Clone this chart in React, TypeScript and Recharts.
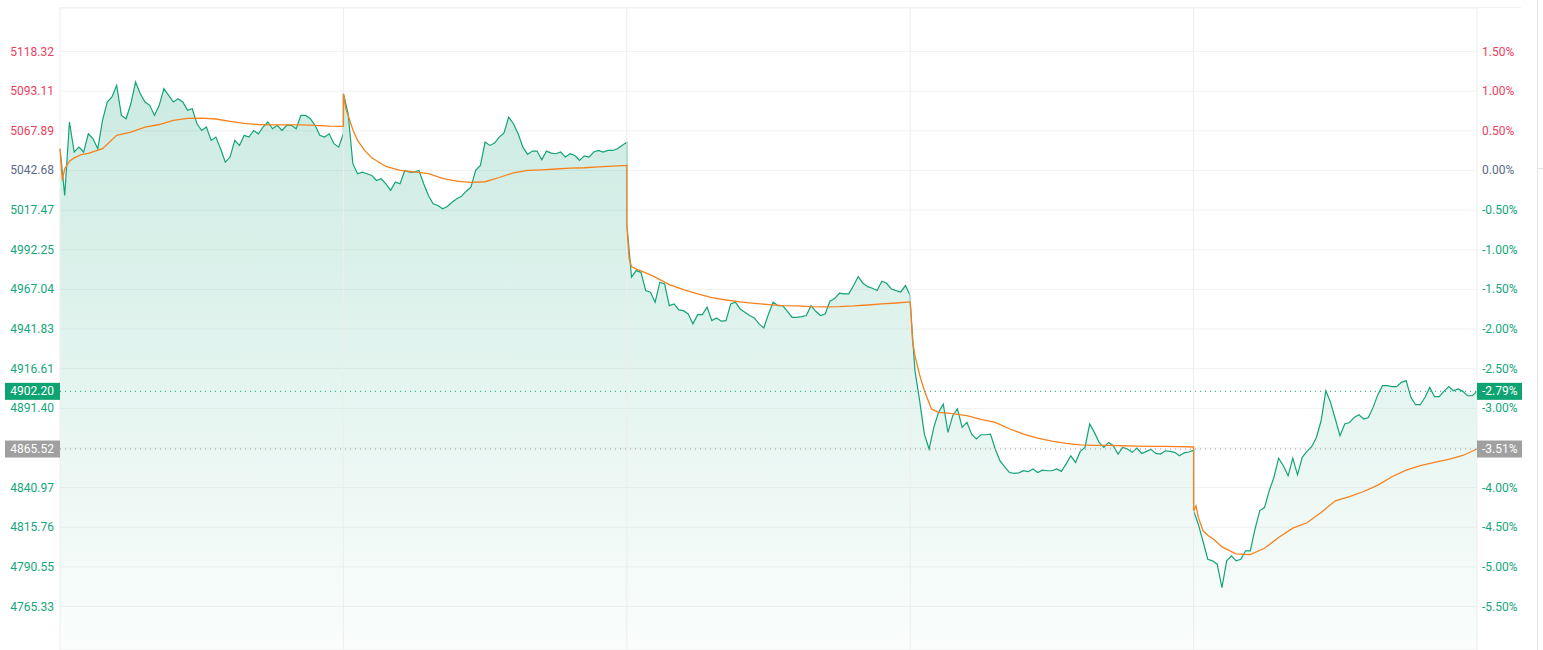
import { Area, CartesianGrid, ComposedChart, Line, ReferenceLine, XAxis, YAxis } from "recharts"

// previous close, 0.00% on the right axis
const BASE = 5042.68

const PRICE_TICKS = [
  5118.32, 5093.11, 5067.89, 5042.68, 5017.47, 4992.25, 4967.04, 4941.83,
  4916.61, 4891.4, 4866.19, 4840.97, 4815.76, 4790.55, 4765.33,
]

// one value every 4 minutes, 61 per session
const PRICE_D1 = [
  5056.5, 5026.8, 5073.5, 5054.4, 5057.5, 5054.4, 5066.0, 5062.8, 5056.5, 5074.5,
  5086.2, 5089.4, 5096.8, 5077.7, 5075.6, 5085.1, 5098.9, 5091.5, 5086.2, 5084.1,
  5077.7, 5084.1, 5094.7, 5090.4, 5086.2, 5088.3, 5086.2, 5080.9, 5081.9, 5072.4,
  5068.1, 5070.3, 5061.8, 5063.9, 5056.5, 5048.0, 5051.2, 5061.8, 5058.6, 5065.0,
  5063.9, 5068.1, 5066.0, 5070.3, 5073.5, 5069.2, 5071.4, 5068.1, 5071.4, 5071.4,
  5069.2, 5077.7, 5077.7, 5075.6, 5071.4, 5065.0, 5063.9, 5066.0, 5059.7, 5057.5,
  5066.0,
]
const PRICE_D2 = [
  5091.5, 5078.8, 5047.0, 5040.6, 5041.6, 5040.6, 5039.5, 5036.3, 5037.4, 5034.2,
  5030.0, 5035.3, 5034.2, 5042.7, 5041.6, 5041.6, 5042.7, 5034.2, 5026.8, 5021.5,
  5020.4, 5018.3, 5019.8, 5022.5, 5024.7, 5026.2, 5029.5, 5032.1, 5042.7, 5045.9,
  5060.7, 5058.6, 5060.1, 5063.9, 5066.5, 5076.6, 5072.4, 5066.0, 5057.5, 5052.9,
  5055.0, 5055.0, 5049.5, 5055.0, 5053.7, 5053.3, 5054.4, 5051.2, 5053.3, 5052.2,
  5049.1, 5052.0, 5051.2, 5054.4, 5055.4, 5054.4, 5055.4, 5055.4, 5056.5, 5058.6,
  5060.7,
]
const PRICE_D3 = [
  5008.7, 4974.8, 4979.0, 4977.9, 4966.3, 4965.2, 4958.9, 4971.6, 4970.5, 4956.7,
  4957.8, 4954.0, 4953.5, 4951.4, 4945.1, 4951.0, 4951.0, 4955.7, 4947.2, 4948.9,
  4946.8, 4947.2, 4957.8, 4958.9, 4954.6, 4952.5, 4950.4, 4948.9, 4945.1, 4942.5,
  4951.4, 4958.9, 4956.7, 4956.7, 4953.1, 4949.3, 4949.3, 4949.7, 4950.4, 4956.7,
  4953.1, 4950.4, 4951.4, 4959.5, 4961.2, 4964.6, 4964.2, 4964.2, 4969.5, 4975.2,
  4970.9, 4968.8, 4967.8, 4966.3, 4972.2, 4970.9, 4967.3, 4966.3, 4965.4, 4969.5,
  4963.1,
]
const PRICE_D4 = [
  4958.9, 4915.4, 4896.3, 4875.0, 4865.5, 4879.3, 4888.8, 4894.1, 4876.1, 4886.7,
  4891.0, 4879.3, 4882.5, 4875.0, 4871.9, 4874.6, 4874.6, 4875.0, 4865.5, 4858.1,
  4854.2, 4850.6, 4850.0, 4850.4, 4851.7, 4851.1, 4852.8, 4850.6, 4852.1, 4851.7,
  4851.7, 4852.8, 4851.3, 4855.9, 4861.2, 4857.0, 4864.0, 4866.5, 4881.4, 4876.1,
  4869.7, 4866.5, 4869.7, 4867.6, 4862.3, 4866.5, 4865.5, 4863.4, 4866.1, 4862.7,
  4864.0, 4865.3, 4862.7, 4862.3, 4864.4, 4864.0, 4863.4, 4861.2, 4863.1, 4863.6,
  4864.8,
]
const PRICE_D5 = [
  4826.2, 4817.7, 4806.7, 4795.4, 4794.4, 4792.3, 4777.4, 4794.4, 4797.6, 4794.4,
  4795.4, 4800.8, 4800.8, 4814.5, 4826.2, 4828.3, 4838.9, 4847.4, 4859.7, 4854.9,
  4848.5, 4859.7, 4849.1, 4860.2, 4864.0, 4867.0, 4872.9, 4883.5, 4902.6, 4895.2,
  4884.6, 4874.0, 4881.4, 4882.4, 4885.6, 4887.3, 4884.6, 4885.6, 4892.0, 4900.1,
  4905.8, 4905.8, 4905.2, 4905.2, 4907.9, 4909.0, 4898.4, 4893.7, 4893.7, 4898.4,
  4904.7, 4898.8, 4898.8, 4902.2, 4905.2, 4902.6, 4903.7, 4902.2, 4899.4, 4899.4,
  4902.2,
]

// average price line, sampled at these minutes of each session
const AVG_MINUTES = [0, 2, 4, 8, 12, 18, 24, 36, 48, 60, 72, 84, 96, 108, 120, 132, 144, 156, 168, 180, 192, 204, 216, 228, 240]
const AVG_D1 = [5056.5, 5036.3, 5043.7, 5048.6, 5050.7, 5052.7, 5053.5, 5056.5, 5065.0, 5067.1, 5070.3, 5071.9, 5074.5, 5075.8, 5076.0, 5075.4, 5073.9, 5072.6, 5071.9, 5071.7, 5071.7, 5071.7, 5071.3, 5070.9, 5070.7]
const AVG_D2 = [5091.5, 5082.0, 5077.7, 5068.6, 5061.8, 5055.4, 5050.8, 5045.2, 5042.7, 5041.8, 5040.6, 5037.6, 5035.9, 5035.1, 5035.5, 5038.2, 5041.2, 5042.7, 5043.1, 5043.6, 5044.2, 5044.4, 5045.0, 5045.5, 5045.9]
const AVG_D3 = [5007.7, 4986.4, 4981.6, 4979.9, 4978.8, 4976.9, 4974.8, 4970.1, 4966.9, 4964.2, 4961.8, 4960.3, 4959.1, 4958.2, 4957.4, 4956.7, 4956.5, 4956.1, 4955.9, 4956.1, 4956.5, 4957.1, 4957.8, 4958.4, 4959.1]
const AVG_D4 = [4958.9, 4934.4, 4924.9, 4912.6, 4902.6, 4891.0, 4888.8, 4888.0, 4886.7, 4884.4, 4882.5, 4878.4, 4875.0, 4872.5, 4870.6, 4869.1, 4868.2, 4867.8, 4867.8, 4867.6, 4867.4, 4867.2, 4867.2, 4867.0, 4866.8]
const AVG_D5 = [4826.2, 4829.4, 4822.0, 4813.5, 4810.7, 4807.5, 4803.3, 4798.8, 4798.4, 4802.4, 4809.2, 4815.2, 4818.6, 4825.2, 4832.6, 4835.3, 4838.5, 4842.6, 4847.9, 4852.1, 4854.9, 4857.0, 4858.9, 4861.4, 4865.52]

const SESSION = 240
const priceDays = [PRICE_D1, PRICE_D2, PRICE_D3, PRICE_D4, PRICE_D5]
const avgDays = [AVG_D1, AVG_D2, AVG_D3, AVG_D4, AVG_D5]

const priceData = priceDays.flatMap((day, d) => day.map((price, i) => ({ t: d * SESSION + i * 4, price })))
const avgData = avgDays.flatMap((day, d) => day.map((avg, i) => ({ t: d * SESSION + AVG_MINUTES[i], avg })))
const dayBounds = [0, 1, 2, 3, 4, 5].map((d) => d * SESSION)

const lastPrice = PRICE_D5[PRICE_D5.length - 1]
const lastAvg = AVG_D5[AVG_D5.length - 1]

const RED = "#ef4060"
const GREEN = "#14a67c"
const FLAT = "#5b6a88"
const FONT = "Roboto, sans-serif"

const pct = (v: number) => `${(((v / BASE) - 1) * 100).toFixed(2)}%`
const tickColor = (v: number) => (v > BASE + 0.01 ? RED : v < BASE - 0.01 ? GREEN : FLAT)
// ticks that sit under a price tag are not drawn
const covered = (v: number) => Math.abs(v - lastAvg) < 3 || Math.abs(v - lastPrice) < 3

function PriceTick({ x, y, payload, side }: any) {
  const v = payload.value
  if (covered(v)) return <g />
  return (
    <text x={x} y={y} dy={4} textAnchor={side === "left" ? "end" : "start"} fill={tickColor(v)} fontSize={12} fontFamily={FONT}>
      {side === "left" ? v.toFixed(2) : pct(v)}
    </text>
  )
}

function Tag({ viewBox, price, color }: any) {
  const { x, y, width } = viewBox
  return (
    <g>
      <rect x={x - 55} y={y - 8.5} width={55} height={17} fill={color} />
      <text x={x - 6} y={y} dy={4} textAnchor="end" fill="#fff" fontSize={12} fontFamily={FONT}>
        {price.toFixed(2)}
      </text>
      <rect x={x + width} y={y - 8.5} width={45} height={17} fill={color} />
      <text x={x + width + 5} y={y} dy={4} fill="#fff" fontSize={12} fontFamily={FONT}>
        {pct(price)}
      </text>
    </g>
  )
}

export default function App() {
  const domain = [4737.7, 5146.0]
  return (
    <div style={{ position: "absolute", left: 0, top: 0, width: 1543, height: 650, background: "#fff", overflow: "hidden" }}>
      <div style={{ position: "absolute", left: 60, top: 7, width: 1461, height: 1, background: "#f0f0f0" }} />
      <div style={{ position: "absolute", left: 1537, top: 0, width: 1, height: 650, background: "#e4e4e4" }} />
      <div style={{ position: "absolute", left: 1537, top: 168, width: 6, height: 1, background: "#e4e4e4" }} />
      <ComposedChart width={1543} height={650} margin={{ top: 8, right: 0, bottom: 0, left: 0 }}>
        <defs>
          <linearGradient id="fillGrad" x1="0" y1="0" x2="0" y2="1">
            <stop offset="0%" stopColor="#16a37a" stopOpacity={0.22} />
            <stop offset="100%" stopColor="#16a37a" stopOpacity={0.02} />
          </linearGradient>
        </defs>
        <XAxis type="number" dataKey="t" domain={[0, 5 * SESSION]} hide />
        <YAxis
          yAxisId="left"
          orientation="left"
          width={60}
          domain={domain}
          ticks={PRICE_TICKS}
          axisLine={false}
          tickLine={false}
          tickSize={0}
          tickMargin={6}
          interval={0}
          tick={<PriceTick side="left" />}
        />
        <YAxis
          yAxisId="right"
          orientation="right"
          width={66}
          domain={domain}
          ticks={PRICE_TICKS}
          axisLine={false}
          tickLine={false}
          tickSize={0}
          tickMargin={5}
          interval={0}
          tick={<PriceTick side="right" />}
        />
        <CartesianGrid yAxisId="left" vertical={false} stroke="#f2f2f2" />
        {dayBounds.map((b) => (
          <ReferenceLine key={b} yAxisId="left" x={b} stroke="#ededed" />
        ))}
        <Area
          yAxisId="left"
          data={priceData}
          dataKey="price"
          type="linear"
          stroke="#13a37a"
          strokeWidth={1.2}
          fill="url(#fillGrad)"
          fillOpacity={1}
          dot={false}
          activeDot={false}
          isAnimationActive={false}
        />
        <Line
          yAxisId="right"
          data={avgData}
          dataKey="avg"
          type="linear"
          stroke="#f7811f"
          strokeWidth={1.3}
          dot={false}
          activeDot={false}
          isAnimationActive={false}
        />
        <ReferenceLine
          yAxisId="left"
          y={lastPrice}
          stroke={GREEN}
          strokeDasharray="1 4"
          label={<Tag price={lastPrice} color="#0ea372" />}
        />
        <ReferenceLine
          yAxisId="left"
          y={lastAvg}
          stroke="#999"
          strokeDasharray="1 4"
          label={<Tag price={lastAvg} color="#a0a0a0" />}
        />
      </ComposedChart>
    </div>
  )
}
